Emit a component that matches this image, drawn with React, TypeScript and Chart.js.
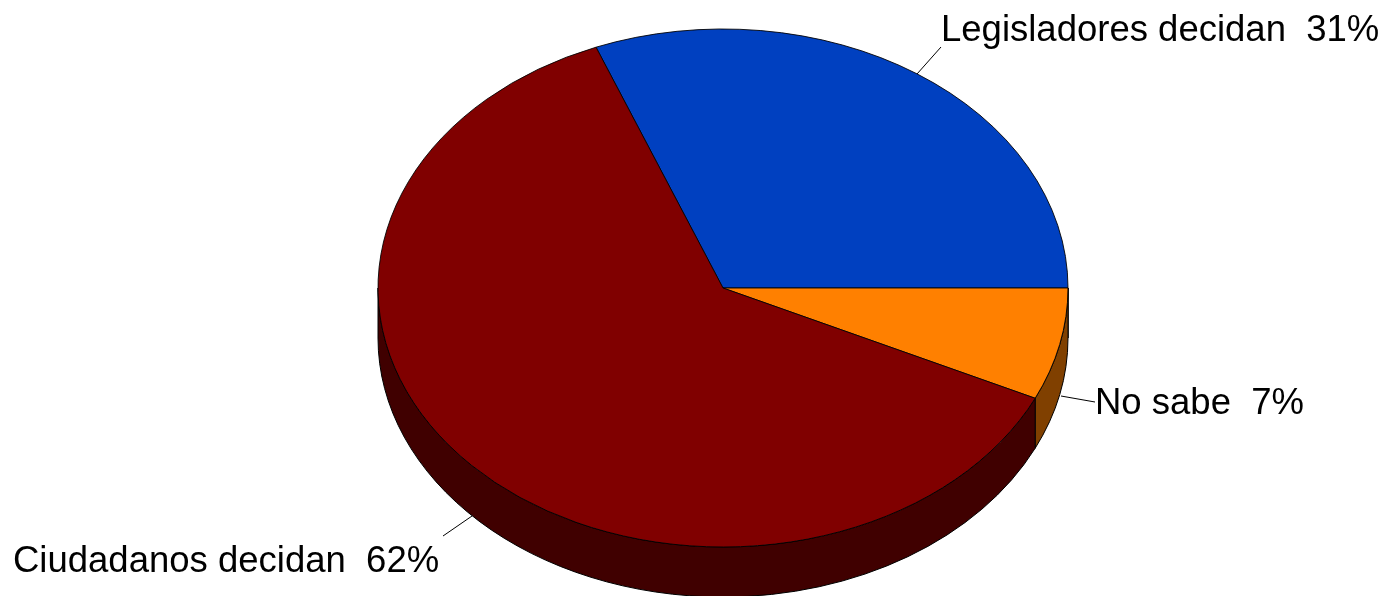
import React, { useEffect, useRef } from "react";
import { Chart, registerables } from "chart.js";

Chart.register(...registerables);

const categories = ["Legisladores decidan", "No sabe", "Ciudadanos decidan"];
const values = [31, 7, 62];
const topColors = ["#0040C0", "#FF8000", "#800000"];
const wallColors = ["#002060", "#804000", "#400000"];

// Layout of the outside labels and their leader lines, in canvas pixels.
const labelAnchors = [
  { x: 941, y: 41 },
  { x: 1095, y: 414 },
  { x: 13, y: 572 },
];
const leaderLines = [
  [917, 74, 941, 47],
  [1061, 396, 1095, 402],
  [443, 536, 472, 516],
];

const TILT = 259 / 345;
const DEPTH = 50;

const pie3d = {
  id: "pie3d",
  beforeDatasetsDraw(chart: any) {
    const ctx = chart.ctx;
    const arcs = chart.getDatasetMeta(0).data;
    const cx = arcs[0].x;
    const cy = arcs[0].y;
    const r = arcs[0].outerRadius;
    const ry = r * TILT;
    ctx.save();
    arcs.forEach((arc: any, i: number) => {
      const a = Math.max(arc.startAngle, 0);
      const b = Math.min(arc.endAngle, Math.PI);
      if (a >= b) return;
      ctx.beginPath();
      ctx.ellipse(cx, cy, r, ry, 0, a, b);
      ctx.ellipse(cx, cy + DEPTH, r, ry, 0, b, a, true);
      ctx.closePath();
      ctx.fillStyle = wallColors[i];
      ctx.fill();
      ctx.lineWidth = 1;
      ctx.strokeStyle = "#000000";
      ctx.stroke();
    });
    ctx.translate(cx, cy);
    ctx.scale(1, TILT);
    ctx.translate(-cx, -cy);
  },
  afterDatasetsDraw(chart: any) {
    const ctx = chart.ctx;
    ctx.restore();
    ctx.save();
    ctx.strokeStyle = "#000000";
    ctx.lineWidth = 1;
    leaderLines.forEach(([x1, y1, x2, y2]) => {
      ctx.beginPath();
      ctx.moveTo(x1, y1);
      ctx.lineTo(x2, y2);
      ctx.stroke();
    });
    ctx.fillStyle = "#000000";
    ctx.font = '36.5px "Liberation Sans", Arial, sans-serif';
    ctx.textAlign = "left";
    ctx.textBaseline = "alphabetic";
    categories.forEach((c, i) => {
      ctx.fillText(`${c}  ${values[i]}%`, labelAnchors[i].x, labelAnchors[i].y);
    });
    ctx.restore();
  },
};

export default function App() {
  const ref = useRef<HTMLCanvasElement>(null);
  useEffect(() => {
    const chart = new Chart(ref.current as HTMLCanvasElement, {
      type: "pie",
      data: {
        labels: categories,
        datasets: [
          {
            data: values,
            backgroundColor: topColors,
            borderColor: "#000000",
            borderWidth: 1,
            clip: false,
          } as any,
        ],
      },
      options: {
        animation: false,
        responsive: false,
        rotation: -21.6,
        radius: 345,
        layout: { padding: { left: 58, bottom: 20, top: 0, right: 0 } },
        plugins: { legend: { display: false }, tooltip: { enabled: false } },
      } as any,
      plugins: [pie3d],
    });
    return () => chart.destroy();
  }, []);
  return (
    <canvas
      ref={ref}
      width={1388}
      height={596}
      style={{ position: "fixed", left: 0, top: 0, width: 1388, height: 596, background: "#ffffff" }}
    />
  );
}
